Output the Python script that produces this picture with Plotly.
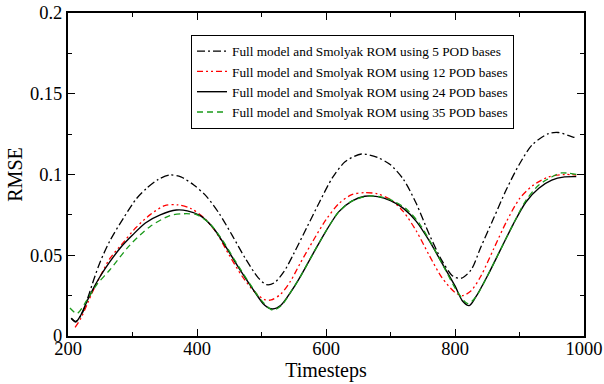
import plotly.graph_objects as go

# ---- data ----
t5 = [205, 212, 222, 231, 240, 250, 265, 286, 306, 322, 340, 358, 375, 395, 415, 435, 455, 475, 495, 508, 520, 535, 550, 570, 590, 610, 630, 655, 680, 700, 720, 740, 760, 780, 797, 810, 825, 840, 860, 880, 900, 920, 945, 960, 983, 990]
rmse5 = [0.011, 0.009, 0.014, 0.024, 0.035, 0.046, 0.059, 0.073, 0.085, 0.0915, 0.097, 0.0997, 0.0985, 0.0935, 0.0863, 0.0755, 0.062, 0.048, 0.036, 0.0318, 0.033, 0.040, 0.051, 0.067, 0.083, 0.098, 0.108, 0.1127, 0.1105, 0.106, 0.097, 0.082, 0.063, 0.0465, 0.037, 0.0358, 0.041, 0.055, 0.073, 0.091, 0.1065, 0.1185, 0.1253, 0.126, 0.1232, 0.1225]

t12 = [211, 220, 230, 240, 250, 265, 286, 305, 327, 350, 370, 390, 410, 430, 450, 470, 490, 505, 515, 530, 545, 560, 580, 600, 620, 640, 660, 680, 700, 720, 740, 760, 780, 800, 812, 825, 840, 860, 880, 900, 920, 945, 970, 988]
rmse12 = [0.0053, 0.011, 0.020, 0.029, 0.037, 0.048, 0.058, 0.067, 0.075, 0.0807, 0.0812, 0.079, 0.0735, 0.064, 0.050, 0.037, 0.027, 0.0225, 0.0223, 0.026, 0.034, 0.045, 0.059, 0.072, 0.082, 0.0875, 0.0888, 0.088, 0.0845, 0.077, 0.065, 0.050, 0.036, 0.027, 0.025, 0.028, 0.037, 0.054, 0.071, 0.085, 0.093, 0.0985, 0.100, 0.0997]

t24 = [205, 212, 220, 230, 240, 250, 265, 281, 300, 320, 343, 368, 385, 405, 425, 445, 465, 485, 505, 517, 530, 545, 560, 580, 600, 620, 640, 660, 680, 700, 720, 740, 760, 780, 800, 812, 822, 832, 850, 870, 890, 910, 930, 950, 970, 988]
rmse24 = [0.011, 0.0087, 0.013, 0.022, 0.030, 0.037, 0.046, 0.0545, 0.0625, 0.070, 0.075, 0.078, 0.0775, 0.0745, 0.067, 0.055, 0.042, 0.030, 0.019, 0.0167, 0.019, 0.027, 0.0366, 0.051, 0.065, 0.077, 0.0835, 0.0865, 0.0863, 0.0838, 0.079, 0.071, 0.059, 0.045, 0.031, 0.0215, 0.0188, 0.024, 0.037, 0.053, 0.069, 0.083, 0.0915, 0.0965, 0.0985, 0.0987]

t35 = [203, 214, 229, 245, 265, 296, 327, 358, 380, 400, 420, 440, 460, 480, 500, 517, 530, 545, 560, 580, 600, 620, 640, 665, 685, 705, 725, 745, 765, 785, 805, 820, 832, 850, 870, 890, 910, 930, 950, 965, 988]
rmse35 = [0.0173, 0.014, 0.022, 0.032, 0.041, 0.0563, 0.0677, 0.0745, 0.0757, 0.075, 0.0695, 0.059, 0.046, 0.0335, 0.022, 0.016, 0.0185, 0.027, 0.0366, 0.051, 0.065, 0.077, 0.0835, 0.0866, 0.0862, 0.0835, 0.0785, 0.0695, 0.056, 0.041, 0.0265, 0.020, 0.024, 0.037, 0.053, 0.069, 0.084, 0.0935, 0.0985, 0.101, 0.100]

names = [
    "Full model and Smolyak ROM using 5 POD bases",
    "Full model and Smolyak ROM using 12 POD bases",
    "Full model and Smolyak ROM using 24 POD bases",
    "Full model and Smolyak ROM using 35 POD bases",
]

SERIF = "Liberation Serif, Times New Roman, serif"

fig = go.Figure()
fig.add_trace(go.Scatter(x=t5, y=rmse5, mode="lines", name=names[0],
                         line=dict(color="black", width=1.3, dash="8px,3px,2px,3px", shape="spline", smoothing=0.8)))
fig.add_trace(go.Scatter(x=t12, y=rmse12, mode="lines", name=names[1],
                         line=dict(color="red", width=1.3, dash="6px,3px,2px,3px,2px,3px", shape="spline", smoothing=0.8)))
fig.add_trace(go.Scatter(x=t24, y=rmse24, mode="lines", name=names[2],
                         line=dict(color="black", width=1.4, shape="spline", smoothing=0.8)))
fig.add_trace(go.Scatter(x=t35, y=rmse35, mode="lines", name=names[3],
                         line=dict(color="#1a9a1a", width=1.3, dash="6px,4px", shape="spline", smoothing=0.8)))

axis_common = dict(
    showline=True, linecolor="black", linewidth=2, mirror="ticks",
    ticks="inside", ticklen=7, tickwidth=1.2, tickcolor="black",
    showgrid=False, zeroline=False, automargin=False,
    tickfont=dict(family=SERIF, size=18.5, color="black"),
)

fig.update_xaxes(range=[200, 1000], tick0=200, dtick=200, ticklabelstandoff=-5,
                 minor=dict(ticks="inside", ticklen=4, dtick=100, tickcolor="black", showgrid=False),
                 title=dict(text="Timesteps", font=dict(family=SERIF, size=20, color="black"), standoff=0),
                 **axis_common)
fig.update_yaxes(range=[0, 0.2], tick0=0, dtick=0.05,
                 minor=dict(ticks="inside", ticklen=4, dtick=0.025, tickcolor="black", showgrid=False),
                 title=dict(text="RMSE", font=dict(family=SERIF, size=20, color="black"), standoff=2),
                 **axis_common)

fig.update_layout(
    width=604, height=384,
    margin=dict(l=68, r=20, t=13, b=48),
    plot_bgcolor="white", paper_bgcolor="white",
    legend=dict(x=0.2384, y=0.932, xanchor="left", yanchor="top",
                bordercolor="black", borderwidth=1, bgcolor="white",
                font=dict(family=SERIF, size=13.3, color="black"),
                tracegroupgap=0, itemwidth=30),
    showlegend=True,
)

fig.write_html("out.html")
